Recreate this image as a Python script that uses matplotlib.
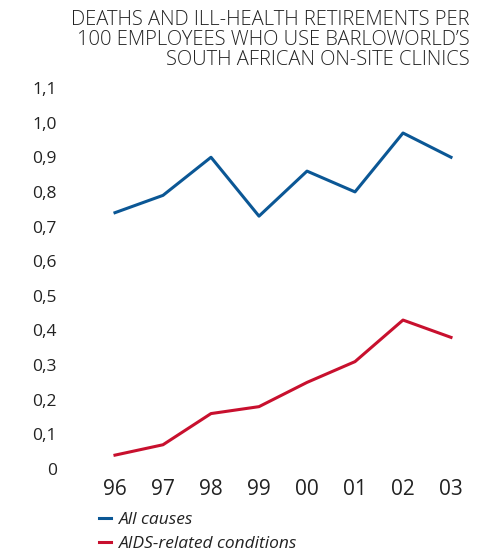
import matplotlib
matplotlib.use('Agg')
import matplotlib.pyplot as plt

years = ['96', '97', '98', '99', '00', '01', '02', '03']
all_causes = [0.74, 0.79, 0.90, 0.73, 0.86, 0.80, 0.97, 0.90]
aids_related = [0.04, 0.07, 0.16, 0.18, 0.25, 0.31, 0.43, 0.38]
y_ticks = [0, 0.1, 0.2, 0.3, 0.4, 0.5, 0.6, 0.7, 0.8, 0.9, 1.0, 1.1]
y_labels = ['0', '0,1', '0,2', '0,3', '0,4', '0,5', '0,6', '0,7', '0,8', '0,9', '1,0', '1,1']

plt.rcParams['font.family'] = ['Open Sans', 'DejaVu Sans']

fig = plt.figure(figsize=(4.86, 5.53), dpi=100)
ax = fig.add_axes([0.2366, 0.1519, 0.6914, 0.689])

x = list(range(len(years)))
ax.plot(x, all_causes, color='#0b5795', lw=2.2, label='All causes', clip_on=False)
ax.plot(x, aids_related, color='#c8102e', lw=2.2, label='AIDS-related conditions', clip_on=False)

ax.set_xlim(0, len(years) - 1)
ax.set_ylim(0, 1.1)
ax.set_xticks(x)
ax.set_xticklabels(years, fontsize=15, color='#222222')
ax.set_yticks(y_ticks)
ax.set_yticklabels(y_labels, fontsize=12.5, color='#222222')
ax.tick_params(axis='y', length=0, pad=42)
ax.tick_params(axis='x', length=0, pad=7)
for s in ax.spines.values():
    s.set_visible(False)

fig.text(0.967, 0.982, "DEATHS AND ILL-HEALTH RETIREMENTS PER\n100 EMPLOYEES WHO USE BARLOWORLD\u2019S\nSOUTH AFRICAN ON-SITE CLINICS",
         ha='right', va='top', fontsize=14.5, fontweight='light', color='#222222', linespacing=1.0)

leg = ax.legend(loc='upper left', bbox_to_anchor=(0.178, 0.097), bbox_transform=fig.transFigure,
                frameon=False, handlelength=0.7, handletextpad=0.45, labelspacing=0.5,
                borderpad=0.2, prop={'style': 'italic', 'size': 12.5})
for t in leg.get_texts():
    t.set_color('#222222')

fig.savefig('out.png', dpi=100)
